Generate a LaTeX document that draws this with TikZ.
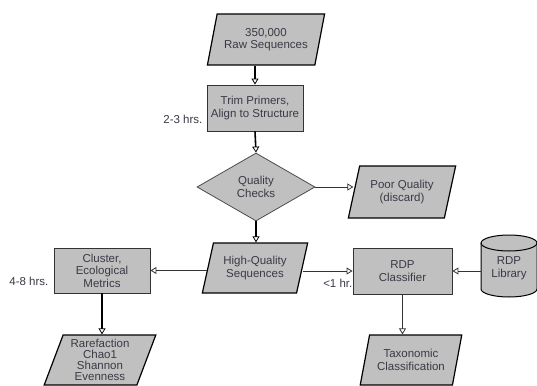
\documentclass[tikz,border=0pt]{standalone}
\usepackage{fontspec}
\setmainfont{Liberation Sans}
\usetikzlibrary{shapes.geometric,arrows.meta}
\definecolor{shapefill}{HTML}{C0C0C0}
\definecolor{txt}{HTML}{3A3A46}
\tikzset{
  base/.style={fill=shapefill, text=txt, align=center, inner sep=0pt,
    font=\fontsize{11.5}{12.5}\selectfont},
  proc/.style={base, rectangle, draw=black!80, line width=0.9pt},
  para/.style={base, trapezium, trapezium left angle=70, trapezium right angle=110,
    trapezium stretches=true, draw=black, line width=1.2pt},
  decide/.style={base, diamond, draw=black!70, line width=0.8pt},
  lbl/.style={text=txt, inner sep=0pt, anchor=east, font=\fontsize{11.5}{13}\selectfont},
  thick link/.style={draw=black, line width=1.6pt, -{Triangle[open, length=6pt, width=7pt, line width=0.8pt]}},
  thin link/.style={draw=black!80, line width=0.8pt, -{Triangle[open, length=6pt, width=7pt, line width=0.8pt]}},
}
\begin{document}
\begin{tikzpicture}[x=1pt,y=1pt]
\useasboundingbox[fill=white] (0,0) rectangle (537,-385);
\begin{scope}
\clip (0,0) rectangle (537,-385);
\node[para, minimum width=118, minimum height=51] (raw) at (266,-39.5) {350,000\\Raw Sequences};
\node[proc, minimum width=96, minimum height=46] (trim) at (255,-108) {Trim Primers,\\Align to Structure};
\node[decide, minimum width=118, minimum height=68] (qc) at (256,-187) {Quality\\Checks};
\node[para, minimum width=108, minimum height=52] (poor) at (402,-192) {Poor Quality\\(discard)};
\node[para, minimum width=106, minimum height=50] (hq) at (255,-268) {High-Quality\\Sequences};
\node[proc, minimum width=96, minimum height=45] (clu) at (102,-270.5) {Cluster,\\Ecological\\Metrics};
\node[para, minimum width=112, minimum height=50, font=\fontsize{11.5}{11}\selectfont] (rare) at (100,-360) {\raisebox{0pt}{Rarefaction}\\Chao1\\Shannon\\Evenness};
\node[proc, minimum width=99, minimum height=46] (rdp) at (402.5,-271) {RDP\\Classifier};
\node[para, minimum width=102, minimum height=50] (tax) at (411,-360) {Taxonomic\\Classification};
% RDP library cylinder
\path[fill=shapefill, draw=black, line width=1pt]
  (481,-243) -- (481,-289) arc[start angle=180, end angle=360, x radius=28pt, y radius=8pt]
  -- (537,-243) arc[start angle=0, end angle=180, x radius=28pt, y radius=8pt] -- cycle;
\draw[black, line width=1pt] (481,-243) arc[start angle=180, end angle=360, x radius=28pt, y radius=8pt];
\node[base, fill=none, minimum width=56, minimum height=62] (lib) at (509,-268) {RDP\\Library};
% labels
\node[lbl] (t1) at ([xshift=-4pt, yshift=12pt]trim.south west) {2-3 hrs.};
\node[lbl] (t2) at ([xshift=-5pt, yshift=12pt]clu.south west) {4-8 hrs.};
\node[lbl] (t3) at ([xshift=0pt, yshift=11pt]rdp.south west) {<1 hr.};
% connectors
\draw[thick link] (raw.south -| trim.north) -- (trim.north);
\draw[thick link] (trim.south) -- (qc.north);
\draw[thin link] (qc.east) -- (qc.east -| poor.west);
\draw[thick link] (qc.south) -- (hq.north -| qc.south);
\draw[thin link] (hq.west |- clu.east) -- (clu.east);
\draw[thin link] (hq.east |- rdp.west) -- (rdp.west);
\draw[thin link] (lib.west |- rdp.east) -- (rdp.east);
\draw[thick link] (clu.south) -- (rare.north -| clu.south);
\draw[thin link] (rdp.south) -- (tax.north -| rdp.south);
\end{scope}
\end{tikzpicture}
\end{document}
